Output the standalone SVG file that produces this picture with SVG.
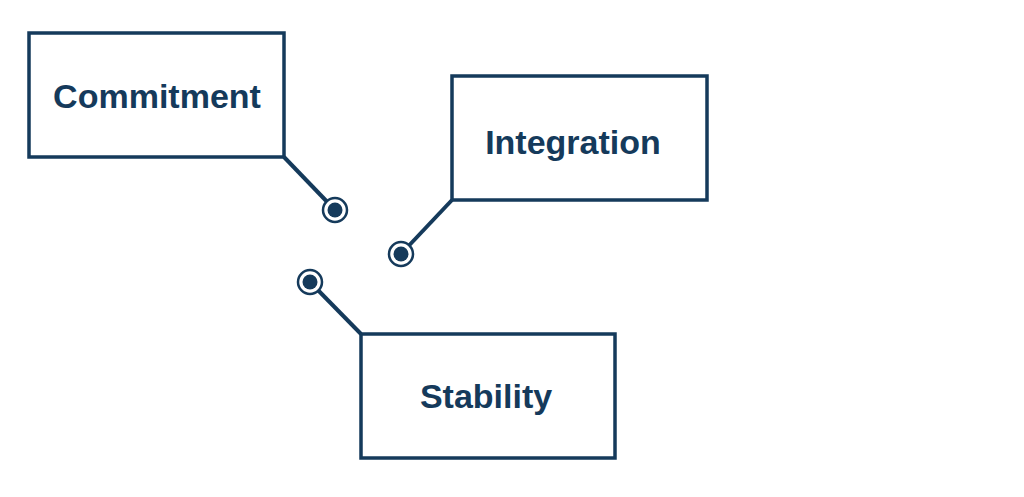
<svg xmlns="http://www.w3.org/2000/svg" width="1024" height="497" viewBox="0 0 1024 497">
<style>
.box{fill:#fff;stroke:#153a5b;stroke-width:3.5}
.lbl{font-family:"Liberation Sans",Arial,sans-serif;font-weight:bold;font-size:34px;fill:#153a5b;text-anchor:middle}
.ln{stroke:#153a5b;stroke-width:4;fill:none}
.ring{fill:#fff;stroke:#153a5b;stroke-width:2.5}
.dot{fill:#153a5b}
</style>
<rect width="1024" height="497" fill="#fff"/>
<g id="connectors">
<line class="ln" x1="284" y1="157" x2="335" y2="210"/>
<line class="ln" x1="452" y1="200" x2="401" y2="254"/>
<line class="ln" x1="310" y1="282" x2="361" y2="334"/>
<circle class="ring" cx="335" cy="210" r="12"/><circle class="dot" cx="335" cy="210" r="7.5"/>
<circle class="ring" cx="401" cy="254" r="12"/><circle class="dot" cx="401" cy="254" r="7.5"/>
<circle class="ring" cx="310" cy="282" r="12"/><circle class="dot" cx="310" cy="282" r="7.5"/>
</g>
<g id="commitment"><rect class="box" x="29" y="33" width="255" height="124"/><text class="lbl" x="157" y="108">Commitment</text></g>
<g id="integration"><rect class="box" x="452" y="76" width="255" height="124"/><text class="lbl" x="573" y="154">Integration</text></g>
<g id="stability"><rect class="box" x="361" y="334" width="254" height="124"/><text class="lbl" x="486" y="408">Stability</text></g>
</svg>
